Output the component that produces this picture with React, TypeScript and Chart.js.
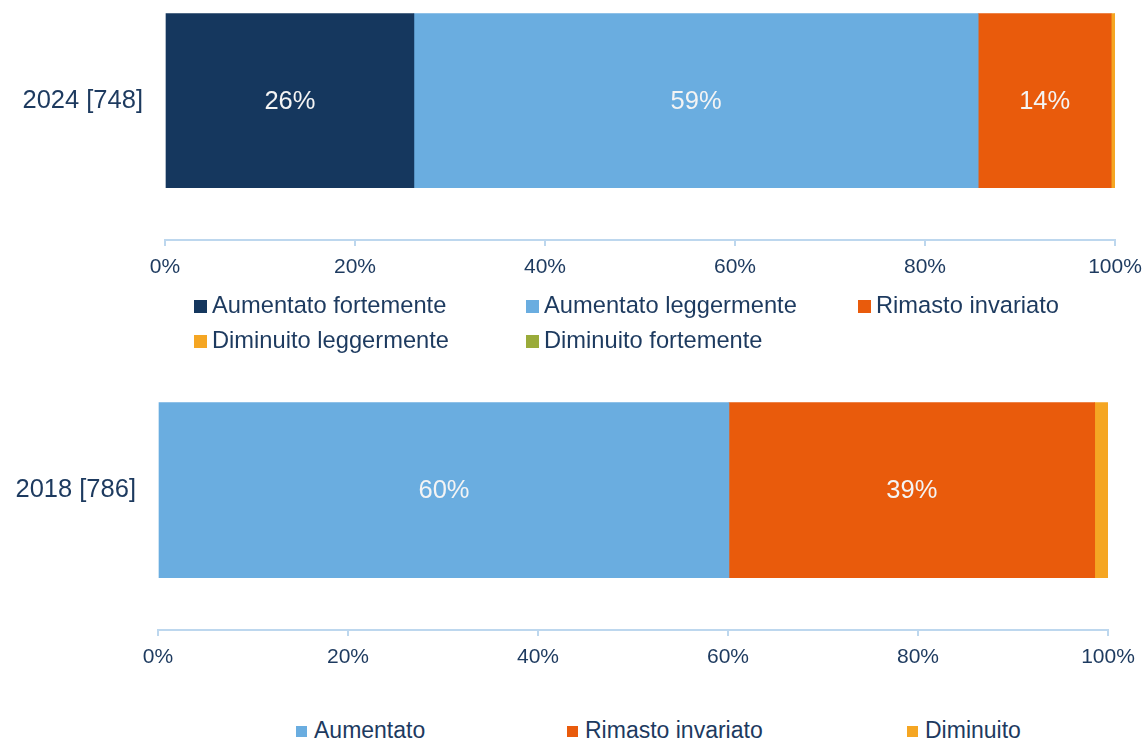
import { useEffect, useRef } from "react";
import { Chart, registerables } from "chart.js";

Chart.register(...registerables);

// ---------- DATA ----------
const categoriesTop = ["2024 [748]"];
const seriesTopLabels = [
  "Aumentato fortemente",
  "Aumentato leggermente",
  "Rimasto invariato",
  "Diminuito leggermente",
  "Diminuito fortemente",
];
const aumentatoFortemente2024 = [26.2];
const aumentatoLeggermente2024 = [59.4];
const rimastoInvariato2024 = [14.0];
const diminuitoLeggermente2024 = [0.4];
const diminuitoFortemente2024 = [0];

const categoriesBottom = ["2018 [786]"];
const seriesBottomLabels = ["Aumentato", "Rimasto invariato", "Diminuito"];
const aumentato2018 = [60.1];
const rimastoInvariato2018 = [38.5];
const diminuito2018 = [1.4];

const xTickValues = [0, 20, 40, 60, 80, 100];

// ---------- STYLE ----------
const FONT = "'Liberation Sans', Arial, sans-serif";
const TEXT = "#1d3a5f";
const AXIS = "#bdd7ee";
const C_NAVY = "#15375e";
const C_LIGHT = "#6aade0";
const C_ORANGE = "#e95b0c";
const C_YELLOW = "#f5a623";
const C_GREEN = "#9aab3a";

const topColors = [C_NAVY, C_LIGHT, C_ORANGE, C_YELLOW, C_GREEN];
const bottomColors = [C_LIGHT, C_ORANGE, C_YELLOW];

const dataLabelPlugin = {
  id: "segLabels",
  afterDatasetsDraw(chart: any) {
    const ctx = chart.ctx;
    ctx.save();
    ctx.font = `25.5px ${FONT}`;
    ctx.fillStyle = "#f4f4f4";
    ctx.textAlign = "center";
    ctx.textBaseline = "middle";
    chart.data.datasets.forEach((ds: any, di: number) => {
      const meta = chart.getDatasetMeta(di);
      meta.data.forEach((el: any, i: number) => {
        const v = ds.data[i];
        if (v < 5) return;
        const cx = (el.x + el.base) / 2;
        ctx.fillText(`${Math.round(v)}%`, cx, el.y + 1);
      });
    });
    ctx.restore();
  },
};

function makeConfig(
  labels: string[],
  names: string[],
  values: number[][],
  colors: string[],
  yWidth: number,
  rightPad: number,
  barThickness: number,
  labelPad: number
): any {
  return {
    type: "bar",
    data: {
      labels,
      datasets: names.map((n, i) => ({
        label: n,
        data: values[i],
        backgroundColor: colors[i],
        borderWidth: 0,
        barThickness,
      })),
    },
    options: {
      indexAxis: "y",
      responsive: false,
      animation: false,
      layout: {
        autoPadding: false,
        padding: { left: 0, right: rightPad, top: 0, bottom: 0 },
      },
      plugins: { legend: { display: false }, tooltip: { enabled: false } },
      scales: {
        x: {
          stacked: true,
          min: 0,
          max: 100,
          afterFit: (s: any) => {
            s.height = 60;
            s.paddingLeft = 0;
            s.paddingRight = 0;
          },
          afterBuildTicks: (s: any) => {
            s.ticks = xTickValues.map((v) => ({ value: v }));
          },
          ticks: {
            callback: (v: any) => `${v}%`,
            color: TEXT,
            font: { family: FONT, size: 21 },
            padding: 9,
            maxRotation: 0,
          },
          grid: {
            drawOnChartArea: false,
            drawTicks: true,
            tickLength: 6,
            color: AXIS,
            lineWidth: 2,
          },
          border: { display: true, color: AXIS, width: 2 },
        },
        y: {
          stacked: true,
          afterFit: (s: any) => {
            s.width = yWidth;
          },
          ticks: {
            color: TEXT,
            font: { family: FONT, size: 25.5 },
            padding: labelPad,
          },
          grid: { display: false, drawTicks: false },
          border: { display: false },
        },
      },
    },
    plugins: [dataLabelPlugin],
  };
}

function ChartCanvas(props: { config: () => any; width: number; height: number }) {
  const ref = useRef<HTMLCanvasElement | null>(null);
  useEffect(() => {
    if (!ref.current) return;
    const c = new Chart(ref.current, props.config());
    return () => c.destroy();
  }, []);
  return (
    <canvas
      ref={ref}
      width={props.width}
      height={props.height}
      style={{ display: "block", width: props.width, height: props.height }}
    />
  );
}

function LegendItem(props: {
  left: number;
  cy: number;
  color: string;
  label: string;
  box: number;
  size: number;
  gap: number;
}) {
  const { left, cy, color, label, box, size, gap } = props;
  return (
    <div
      style={{
        position: "absolute",
        left,
        top: cy - 15,
        height: 30,
        display: "flex",
        alignItems: "center",
        whiteSpace: "nowrap",
      }}
    >
      <div
        style={{
          width: box,
          height: box,
          background: color,
          marginTop: 3,
          marginRight: gap,
          flex: "none",
        }}
      />
      <span
        style={{
          fontFamily: FONT,
          fontSize: size,
          color: TEXT,
          lineHeight: "30px",
        }}
      >
        {label}
      </span>
    </div>
  );
}

export default function App() {
  const topLegendPos = [
    { left: 194, cy: 305 },
    { left: 526, cy: 305 },
    { left: 858, cy: 305 },
    { left: 194, cy: 340 },
    { left: 526, cy: 340 },
  ];
  const bottomLegendPos = [
    { left: 296, cy: 730 },
    { left: 567, cy: 730 },
    { left: 907, cy: 730 },
  ];
  return (
    <div
      style={{
        position: "absolute",
        left: 0,
        top: 0,
        width: 1146,
        height: 741,
        overflow: "hidden",
        background: "#ffffff",
      }}
    >
      <div style={{ position: "absolute", left: 0, top: -76 }}>
        <ChartCanvas
          width={1146}
          height={376}
          config={() =>
            makeConfig(
              categoriesTop,
              seriesTopLabels,
              [
                aumentatoFortemente2024,
                aumentatoLeggermente2024,
                rimastoInvariato2024,
                diminuitoLeggermente2024,
                diminuitoFortemente2024,
              ],
              topColors,
              165,
              31,
              174,
              22
            )
          }
        />
      </div>
      <div style={{ position: "absolute", left: 0, top: 313 }}>
        <ChartCanvas
          width={1146}
          height={377}
          config={() =>
            makeConfig(
              categoriesBottom,
              seriesBottomLabels,
              [aumentato2018, rimastoInvariato2018, diminuito2018],
              bottomColors,
              158,
              38,
              175,
              22
            )
          }
        />
      </div>
      {seriesTopLabels.map((l, i) => (
        <LegendItem
          key={l}
          left={topLegendPos[i].left}
          cy={topLegendPos[i].cy}
          color={topColors[i]}
          label={l}
          box={13}
          size={23.7}
          gap={5}
        />
      ))}
      {seriesBottomLabels.map((l, i) => (
        <LegendItem
          key={l}
          left={bottomLegendPos[i].left}
          cy={bottomLegendPos[i].cy}
          color={bottomColors[i]}
          label={l}
          box={11}
          size={23}
          gap={7}
        />
      ))}
    </div>
  );
}
